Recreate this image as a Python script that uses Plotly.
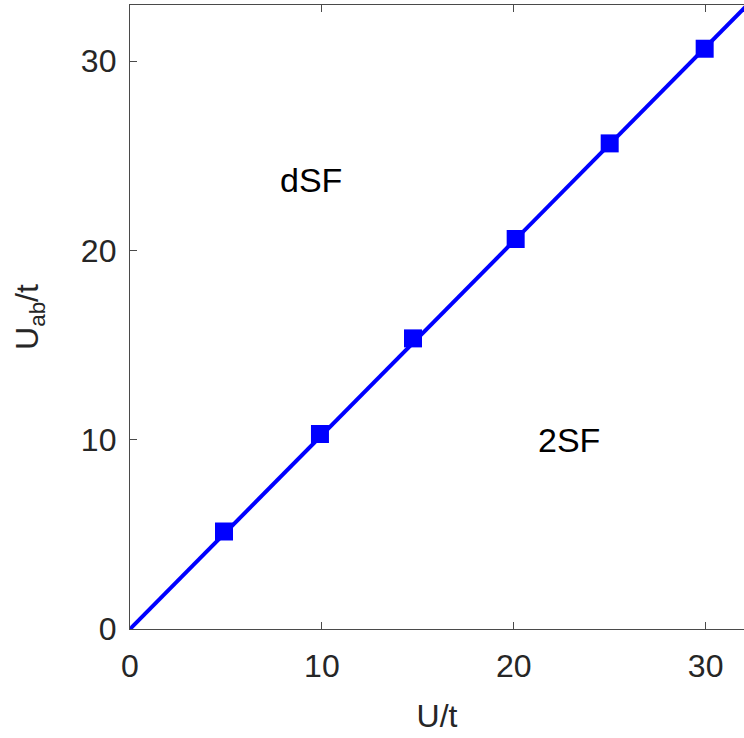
import plotly.graph_objects as go

# data
marker_x = [4.9, 9.9, 14.75, 20.1, 25.0, 29.95]
marker_y = [5.15, 10.3, 15.35, 20.6, 25.65, 30.65]
line_x = [0, 35]
line_y = [0, 35.85]
x_ticks = [0, 10, 20, 30]
y_ticks = [0, 10, 20, 30]
labels = ["dSF", "2SF"]
label_x = [9.43, 22.9]
label_y = [23.7, 9.98]

BLUE = "#0000ff"
AX = "#262626"
LINE = "#4a4a4a"
FONT = "Liberation Sans, Arial, sans-serif"

fig = go.Figure()
fig.add_trace(go.Scatter(x=line_x, y=line_y, mode="lines",
                         line=dict(color=BLUE, width=4), showlegend=False,
                         cliponaxis=True))
fig.add_trace(go.Scatter(x=marker_x, y=marker_y, mode="markers",
                         marker=dict(symbol="square", size=18, color=BLUE,
                                     line=dict(width=0)),
                         showlegend=False, cliponaxis=False))

for t, x, y in zip(labels, label_x, label_y):
    fig.add_annotation(x=x, y=y, text=t, showarrow=False,
                       font=dict(size=34, color="#000000", family=FONT))

fig.update_layout(
    width=744, height=738,
    margin=dict(l=130, r=0, t=5, b=109),
    plot_bgcolor="white", paper_bgcolor="white",
    font=dict(family=FONT, color=AX, size=32),
    xaxis=dict(range=[0, 32], tickvals=x_ticks, ticks="inside", ticklen=7,
               tickcolor=LINE, showline=True, linecolor=LINE, linewidth=1.3,
               mirror="ticks", showgrid=False, zeroline=False,
               ticklabelstandoff=8,
               tickfont=dict(size=32, color=AX),
               title=dict(text="U/t", font=dict(size=32, color=AX), standoff=22)),
    yaxis=dict(range=[0, 32.96], tickvals=y_ticks, ticks="inside", ticklen=7,
               tickcolor=LINE, showline=True, linecolor=LINE, linewidth=1.3,
               showgrid=False, zeroline=False,
               ticklabelstandoff=6,
               tickfont=dict(size=32, color=AX),
               title=dict(text="U<sub>ab</sub>/t", font=dict(size=32, color=AX), standoff=32)),
)

fig.write_html("out.html")
